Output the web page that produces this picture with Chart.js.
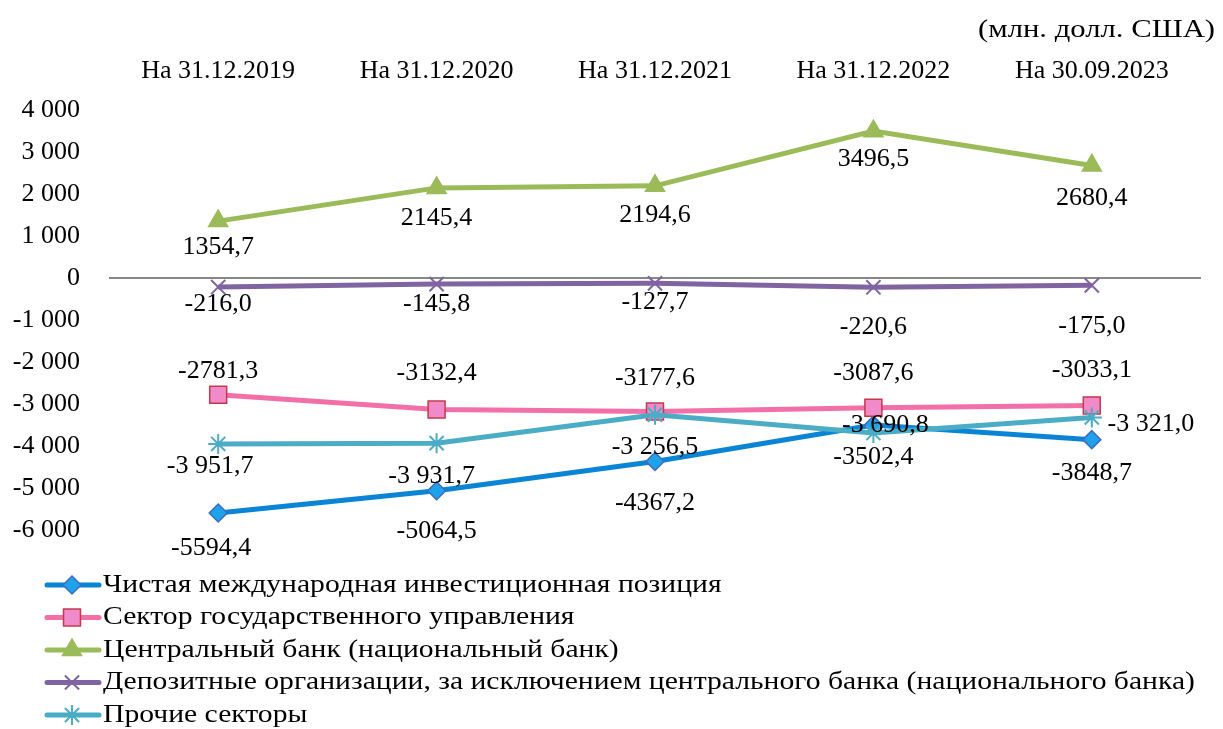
<!DOCTYPE html>
<html lang="ru">
<head>
<meta charset="utf-8">
<title>Международная инвестиционная позиция</title>
<script src="https://cdn.jsdelivr.net/npm/chart.js@4.4.1/dist/chart.umd.min.js"></script>
<style>
    html, body { margin: 0; padding: 0; background: #fff; }
    #wrap { width: 1223px; height: 729px; position: relative; }
</style>
</head>
<body>
<div id="wrap"><canvas id="chartPosicao"></canvas></div>
<script>
const categorias = ['На 31.12.2019', 'На 31.12.2020', 'На 31.12.2021', 'На 31.12.2022', 'На 30.09.2023'];
const nomesSeries = [
    'Чистая международная инвестиционная позиция',
    'Сектор государственного управления',
    'Центральный банк (национальный банк)',
    'Депозитные организации, за исключением центрального банка (национального банка)',
    'Прочие секторы'
];
const posicaoLiquida = [-5594.4, -5064.5, -4367.2, -3502.4, -3848.7];
const governo = [-2781.3, -3132.4, -3177.6, -3087.6, -3033.1];
const bancoCentral = [1354.7, 2145.4, 2194.6, 3496.5, 2680.4];
const depositarias = [-216.0, -145.8, -127.7, -220.6, -175.0];
const outrosSetores = [-3951.7, -3931.7, -3256.5, -3690.8, -3321.0];
const eixoMin = -6000;
const eixoMax = 4000;
const eixoPasso = 1000;
const unidade = '(млн. долл. США)';

const FONTE = '"Liberation Serif", "Times New Roman", serif';
const TAM = 26;

// "-3 951,7" ou "-3951,7"
function formatar(valor, agrupar) {
    let [int, dec] = Math.abs(valor).toFixed(1).split('.');
    if (agrupar) int = int.replace(/\B(?=(\d{3})+(?!\d))/g, ' ');
    return (valor < 0 ? '-' : '') + int + ',' + dec;
}

function formatarTick(valor) {
    const s = Math.abs(valor).toString().replace(/\B(?=(\d{3})+(?!\d))/g, ' ');
    return (valor < 0 ? '-' : '') + s;
}

// texto cirílico um pouco mais largo, como na fonte original
function textoLargo(ctx, texto, x, y, escala) {
    ctx.save();
    ctx.translate(x, y);
    ctx.scale(escala, 1);
    ctx.fillText(texto, 0, 0);
    ctx.restore();
}

const rotulosPlugin = {
    id: 'rotulos',
    afterDatasetsDraw(chart) {
        const ctx = chart.ctx;
        ctx.save();
        ctx.font = `${TAM}px ${FONTE}`;
        ctx.fillStyle = '#000';
        ctx.textAlign = 'center';
        ctx.textBaseline = 'middle';
        chart.data.datasets.forEach((ds, i) => {
            chart.getDatasetMeta(i).data.forEach((pt, j) => {
                const [dx, dy] = ds.deslocRotulos[j];
                ctx.fillText(formatar(ds.data[j], ds.agrupar), pt.x + dx, pt.y + dy);
            });
        });
        ctx.restore();
    }
};

const legendaPlugin = {
    id: 'legendaLista',
    afterDraw(chart) {
        const ctx = chart.ctx;
        ctx.save();
        chart.data.datasets.forEach((ds, i) => {
            const y = 585 + i * 32.5;
            ctx.strokeStyle = ds.borderColor;
            ctx.lineWidth = 5;
            ctx.lineCap = 'round';
            ctx.beginPath();
            ctx.moveTo(47, y);
            ctx.lineTo(99, y);
            ctx.stroke();

            ctx.fillStyle = ds.pointBackgroundColor;
            ctx.strokeStyle = ds.pointBorderColor;
            ctx.lineWidth = ds.pointBorderWidth;
            ctx.lineCap = 'butt';
            Chart.helpers.drawPoint(ctx, {
                pointStyle: ds.pointStyle,
                radius: ds.pointRadius,
                borderWidth: ds.pointBorderWidth,
                rotation: 0
            }, 72, y);

            ctx.fillStyle = '#000';
            ctx.font = `${TAM}px ${FONTE}`;
            ctx.textAlign = 'left';
            ctx.textBaseline = 'middle';
            textoLargo(ctx, ds.label, 103, y, 1.14);
        });

        ctx.font = `${TAM}px ${FONTE}`;
        ctx.fillStyle = '#000';
        ctx.textAlign = 'right';
        ctx.textBaseline = 'middle';
        textoLargo(ctx, unidade, 1215, 30, 1.18);
        ctx.restore();
    }
};

function serie(label, data, cor, estilo) {
    return Object.assign({
        label: label,
        data: data,
        borderColor: cor,
        borderWidth: 5,
        tension: 0,
        fill: false,
        pointBorderWidth: 1.5,
        clip: false
    }, estilo);
}

const datasets = [
    serie(nomesSeries[0], posicaoLiquida, '#0a84d4', {
        order: 5,
        pointStyle: 'rectRot', pointRadius: 9,
        pointBackgroundColor: '#1ea2ea', pointBorderColor: '#3d6cc0',
        deslocRotulos: [[-7, 35], [0, 40], [0, 42], [0, 32], [0, 34]]
    }),
    serie(nomesSeries[1], governo, '#f26fa8', {
        order: 4,
        pointStyle: 'rect', pointRadius: 12,
        pointBackgroundColor: '#f08ac8', pointBorderColor: '#c43a4c',
        deslocRotulos: [[0, -24], [0, -36], [0, -33], [0, -35], [0, -35]]
    }),
    serie(nomesSeries[2], bancoCentral, '#9bbb59', {
        order: 3,
        pointStyle: 'triangle', pointRadius: 11,
        pointBackgroundColor: '#9bbb59', pointBorderColor: '#9bbb59',
        deslocRotulos: [[0, 26], [0, 30], [0, 29], [0, 28], [0, 33]]
    }),
    serie(nomesSeries[3], depositarias, '#8064a2', {
        order: 2,
        pointStyle: 'crossRot', pointRadius: 10, pointBorderWidth: 2,
        pointBackgroundColor: '#8064a2', pointBorderColor: '#8064a2',
        deslocRotulos: [[0, 17], [0, 20], [0, 19], [0, 40], [0, 41]]
    }),
    serie(nomesSeries[4], outrosSetores, '#4bacc6', {
        order: 1,
        pointStyle: 'star', pointRadius: 10, pointBorderWidth: 2,
        pointBackgroundColor: '#4bacc6', pointBorderColor: '#4bacc6',
        agrupar: true,
        deslocRotulos: [[-8, 22], [-5, 33], [0, 32], [12, -8], [59, 7]]
    })
];

const ctxPosicao = document.getElementById('chartPosicao').getContext('2d');
new Chart(ctxPosicao, {
    type: 'line',
    data: { labels: categorias, datasets: datasets },
    options: {
        responsive: true,
        maintainAspectRatio: false,
        animation: false,
        layout: { padding: { top: 0, left: 0, right: 22, bottom: 199 } },
        plugins: {
            legend: { display: false },
            tooltip: { enabled: false }
        },
        scales: {
            x: {
                position: 'top',
                offset: true,
                grid: { display: false, drawTicks: false },
                border: { display: false },
                ticks: {
                    color: '#000',
                    font: { family: FONTE, size: TAM },
                    padding: 23,
                    maxRotation: 0,
                    autoSkip: false
                },
                afterFit(scale) { scale.height = 110; }
            },
            y: {
                min: eixoMin,
                max: eixoMax,
                grid: {
                    drawTicks: false,
                    color: (c) => c.tick && c.tick.value === 0 ? '#878787' : 'rgba(0,0,0,0)',
                    lineWidth: 2
                },
                border: { display: false },
                ticks: {
                    stepSize: eixoPasso,
                    color: '#000',
                    font: { family: FONTE, size: TAM },
                    padding: 29,
                    callback: (v) => formatarTick(v)
                },
                afterFit(scale) { scale.width = 109; }
            }
        }
    },
    plugins: [rotulosPlugin, legendaPlugin]
});
</script>
</body>
</html>
